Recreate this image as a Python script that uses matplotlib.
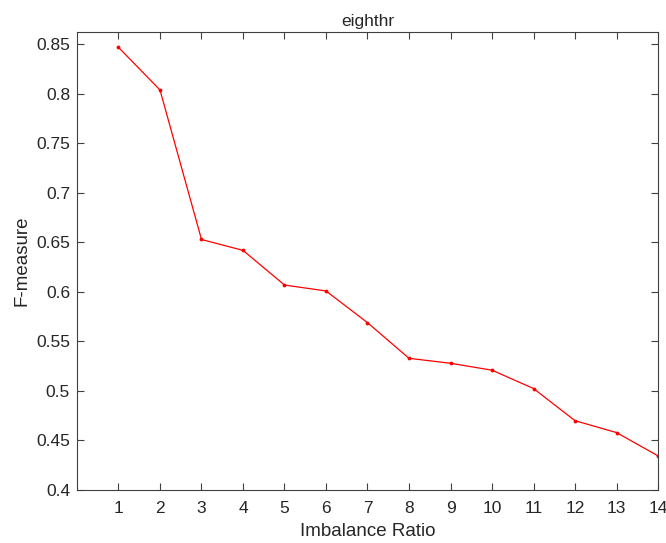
import matplotlib
matplotlib.use('Agg')
import matplotlib.pyplot as plt

# data
ratio = [1, 2, 3, 4, 5, 6, 7, 8, 9, 10, 11, 12, 13, 14]
fmeasure = [0.847, 0.804, 0.653, 0.642, 0.607, 0.601, 0.569, 0.533,
            0.528, 0.521, 0.5025, 0.470, 0.458, 0.4345]
yticks = [0.4, 0.45, 0.5, 0.55, 0.6, 0.65, 0.7, 0.75, 0.8, 0.85]

plt.rcParams['font.family'] = ['Liberation Sans', 'DejaVu Sans']
axcol = '#404040'

fig = plt.figure(figsize=(6.66, 5.43), dpi=100)
ax = fig.add_axes([0.1156, 0.0976, 0.8724, 0.8434])
ax.plot(ratio, fmeasure, color='red', lw=0.9, marker='.', markersize=3.5)

ax.set_xlim(0, 14)
ax.set_ylim(0.4, 0.8625)
ax.set_xticks(ratio)
ax.set_yticks(yticks)
ax.set_yticklabels(['%g' % v for v in yticks])
ax.tick_params(direction='in', top=True, right=True, labelsize=12.5,
               colors=axcol, labelcolor='#262626', length=5, width=0.8)
ax.tick_params(axis='x', pad=8)
ax.tick_params(axis='y', pad=5)
for s in ax.spines.values():
    s.set_color(axcol)
    s.set_linewidth(0.8)

ax.set_xlabel('Imbalance Ratio', fontsize=13.5, color='#262626', labelpad=5)
ax.set_ylabel('F-measure', fontsize=13.5, color='#262626', labelpad=4)
ax.set_title('eighthr', fontsize=12.5, color='#262626', pad=4)

fig.savefig('out.png', dpi=100)
